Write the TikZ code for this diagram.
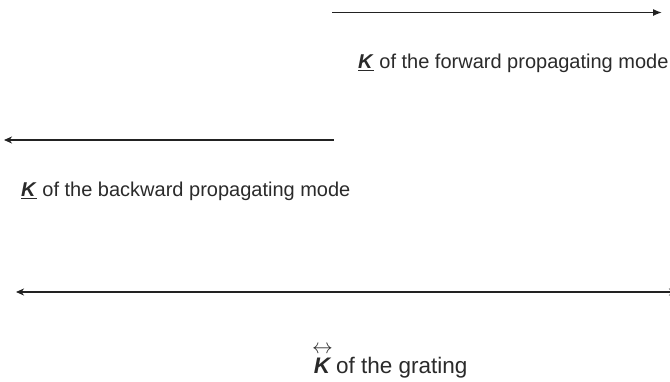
\documentclass[tikz,border=0pt]{standalone}
\usepackage{fontspec}
\usepackage{amsmath}
\setmainfont{Liberation Sans}
\usetikzlibrary{arrows.meta}
\definecolor{ink}{HTML}{222222}
\definecolor{txt}{HTML}{2A2A2A}
\begin{document}
\begin{tikzpicture}[x=1pt,y=-1pt,
  vec/.style={draw=ink,line width=1.3pt},
  lbl/.style={anchor=base west,inner sep=0pt,text=txt,font=\fontsize{20}{24}\selectfont},
  glbl/.style={anchor=base west,inner sep=0pt,text=txt,font=\fontsize{22.5}{26}\selectfont},
  fwdtip/.style={-{Latex[length=9pt,width=7pt]}},
  backtip/.style={{Stealth[length=8pt,width=7pt,inset=2.5pt]}-},
  bothtip/.style={{Stealth[length=8pt,width=7pt,inset=2.5pt]}-{Stealth[length=8pt,width=7pt,inset=2.5pt]}}]
\useasboundingbox (0,0) rectangle (670,381);

% forward propagating mode
\coordinate (f1) at (332,12.5);
\coordinate (f2) at (662,12.5);
\draw[vec,fwdtip] (f1) -- (f2);
\node[lbl] (flbl) at (358,68) {\underline{\textbf{\textit{K}}} of the forward propagating mode};

% backward propagating mode
\coordinate (b1) at (334,140);
\coordinate (b2) at (4,140);
\draw[vec,backtip] (b2) -- (b1);
\node[lbl] (blbl) at (21,196) {\underline{\textbf{\textit{K}}} of the backward propagating mode};

% grating vector (right end runs past the frame)
\coordinate (g1) at (16,292);
\coordinate (g2) at (677,292);
\draw[vec,bothtip] (g1) -- (g2);
\node[glbl] (glbl) at (312,373) {$\overset{\textstyle\leftrightarrow}{\text{\textbf{\textit{K}}}}$\hspace{-3pt} of the grating};
\end{tikzpicture}
\end{document}
